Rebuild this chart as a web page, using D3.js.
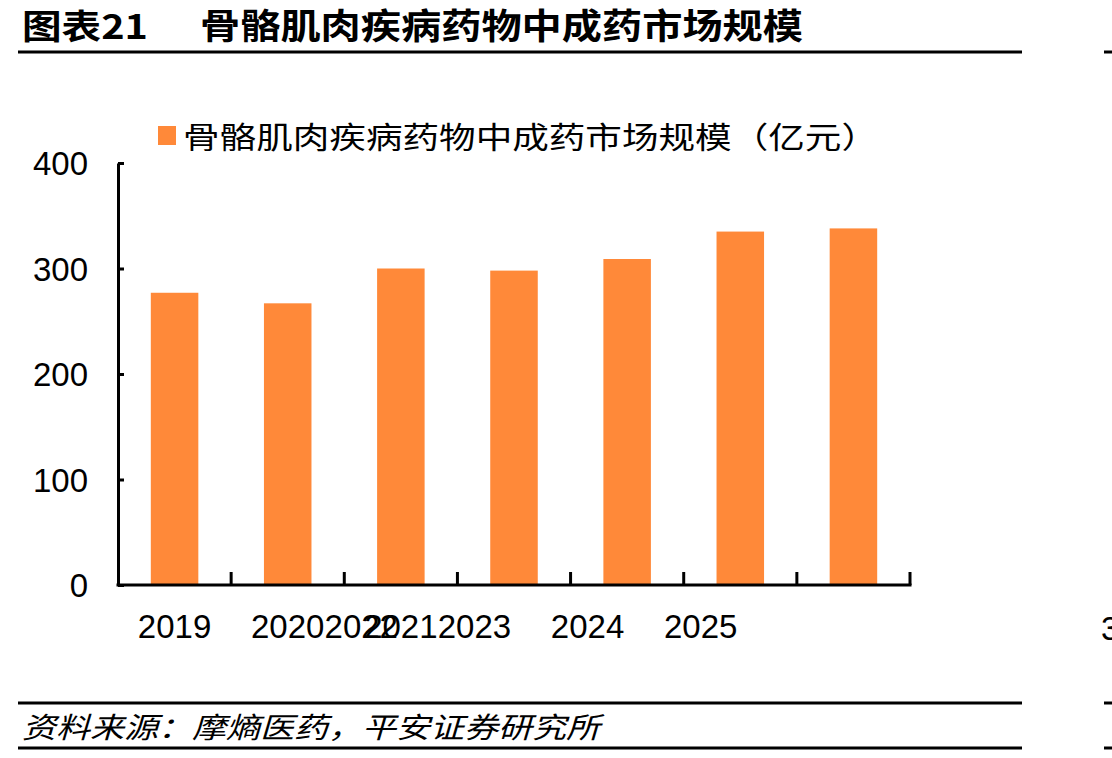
<!DOCTYPE html>
<html>
<head>
<meta charset="utf-8">
<script src="https://cdn.jsdelivr.net/npm/d3@7"></script>
<style>
  body { margin: 0; background: #fff; }
  svg { display: block; }
</style>
</head>
<body>
<div id="chart"></div>
<script>
// data
const years = ['2019', '2020', '2021', '2022', '2023', '2024', '2025'];
const marketSize = [277, 267, 300, 298, 309, 335, 338];
const yTicks = [0, 100, 200, 300, 400];
const titleNo = '图表21';
const titleText = '骨骼肌肉疾病药物中成药市场规模';
const legendText = '骨骼肌肉疾病药物中成药市场规模（亿元）';
const sourceText = '资料来源：摩熵医药，平安证券研究所';

const width = 1112;
const height = 758;
const orange = '#FF8939';
const cjk = '"Noto Sans CJK SC", "Noto Sans", sans-serif';
const latin = '"Liberation Sans", Arial, sans-serif';

const svg = d3.select('#chart').append('svg')
  .attr('width', width)
  .attr('height', height);

// header / footer
svg.append('text')
  .attr('x', 22).attr('y', 39)
  .attr('font-family', cjk).attr('font-weight', 700).attr('font-size', 34)
  .attr('textLength', 126).attr('lengthAdjust', 'spacingAndGlyphs')
  .text(titleNo);
svg.append('text')
  .attr('x', 200).attr('y', 39)
  .attr('font-family', cjk).attr('font-weight', 700).attr('font-size', 35)
  .attr('textLength', 603).attr('lengthAdjust', 'spacingAndGlyphs')
  .text(titleText);

[52, 703, 748].forEach(y => {
  svg.append('line').attr('x1', 18).attr('x2', 1022).attr('y1', y).attr('y2', y)
    .attr('stroke', '#000').attr('stroke-width', 3);
  // edge of the neighbouring chart
  svg.append('line').attr('x1', 1104).attr('x2', 1112).attr('y1', y).attr('y2', y)
    .attr('stroke', '#000').attr('stroke-width', 3);
});
svg.append('text')
  .attr('x', 1101).attr('y', 640)
  .attr('font-family', latin).attr('font-size', 33)
  .text('3');

svg.append('text')
  .attr('x', 22).attr('y', 738)
  .attr('font-family', cjk).attr('font-style', 'italic').attr('font-size', 29)
  .attr('textLength', 578).attr('lengthAdjust', 'spacingAndGlyphs')
  .text(sourceText);

// scales
const x = d3.scaleBand()
  .domain(years)
  .range([118, 910])
  .paddingInner(0.58)
  .paddingOuter(0.29);

const y = d3.scaleLinear()
  .domain([0, 400])
  .range([585, 163]);

// legend
svg.append('rect')
  .attr('x', 158).attr('y', 126).attr('width', 18).attr('height', 19)
  .attr('fill', orange);
svg.append('text')
  .attr('x', 183).attr('y', 148)
  .attr('font-family', cjk).attr('font-size', 30)
  .attr('textLength', 695).attr('lengthAdjust', 'spacingAndGlyphs')
  .text(legendText);

// bars
svg.append('g')
  .selectAll('rect')
  .data(years)
  .join('rect')
  .attr('x', d => x(d))
  .attr('y', (d, i) => y(marketSize[i]))
  .attr('width', x.bandwidth())
  .attr('height', (d, i) => y(0) - y(marketSize[i]))
  .attr('fill', orange);

// y axis, ticks point inward
const yAxis = svg.append('g')
  .attr('transform', `translate(${x.range()[0]},0)`)
  .call(d3.axisLeft(y).tickValues(yTicks).tickSizeInner(-6).tickSizeOuter(0).tickPadding(30));
yAxis.select('.domain').attr('stroke-width', 3);
yAxis.selectAll('.tick line').attr('stroke-width', 3);
yAxis.selectAll('.tick text')
  .attr('font-family', latin).attr('font-size', 33).attr('fill', '#000')
  .attr('dy', '0.36em');

// x axis with category boundary ticks
const step = x.step();
const bw = x.bandwidth();
const xAxis = svg.append('g');
xAxis.append('line')
  .attr('x1', x.range()[0] - 1.5).attr('x2', x.range()[1] + 1.5)
  .attr('y1', y(0)).attr('y2', y(0))
  .attr('stroke', '#000').attr('stroke-width', 3);
xAxis.selectAll('.bound')
  .data(years)
  .join('line')
  .attr('class', 'bound')
  .attr('x1', d => x(d) + bw + (step - bw) / 2)
  .attr('x2', d => x(d) + bw + (step - bw) / 2)
  .attr('y1', y(0)).attr('y2', y(0) - 13)
  .attr('stroke', '#000').attr('stroke-width', 3);

// labels as they sit in the reference: the later ones slid left
xAxis.selectAll('.lbl')
  .data(years)
  .join('text')
  .attr('class', 'lbl')
  .attr('x', (d, i) => x(d) + bw / 2 - (i >= 3 ? 1.35 * step : 0))
  .attr('y', 638)
  .attr('text-anchor', 'middle')
  .attr('font-family', latin).attr('font-size', 33)
  .text(d => d);
</script>
</body>
</html>
